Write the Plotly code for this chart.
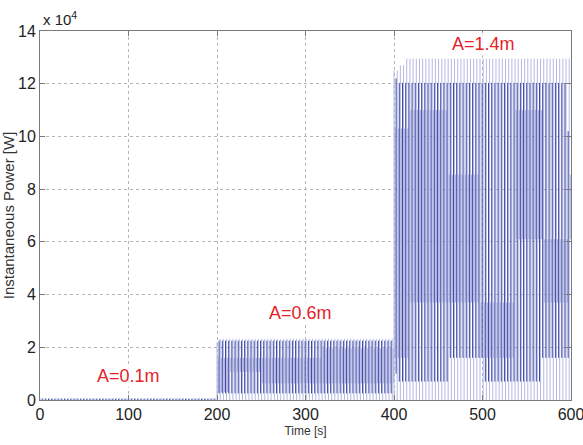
import plotly.graph_objects as go

# ---------------- data (power in units of 10^4 W) ----------------
seg_starts = [0, 200, 400]
seg_ends = [200, 400, 600]
cycle_period_s = 3.6

# light full-swing strokes: band start, band end, low, high
light_t0 = [0, 200, 203, 400, 406, 414]
light_t1 = [200, 203, 400, 406, 414, 600]
light_lo = [0, 0, 0, 0, 0, 0]
light_hi = [0.07, 2.2, 2.32, 12.5, 12.7, 12.95]

# medium (lavender) strokes
mid_t0 = [201, 215, 248, 320, 401, 416, 461, 495, 500, 514, 536, 568]
mid_t1 = [215, 248, 320, 400, 416, 461, 495, 536, 514, 568, 596, 600]
mid_lo = [0.3, 1.07, 0.63, 0.63, 1.6, 3.7, 3.7, 1.6, 6.1, 6.1, 3.7, 6.1]
mid_hi = [1.6, 1.6, 1.6, 1.96, 10.3, 11.0, 8.55, 3.7, 8.55, 11.0, 6.1, 8.55]

# dark strokes
dark_t0 = [0, 200, 400, 404, 461, 502, 568, 596]
dark_t1 = [200, 400, 404, 461, 502, 568, 596, 600]
dark_lo = [0, 0.25, 1.0, 0.7, 1.6, 0.7, 1.6, 1.6]
dark_hi = [0.05, 2.25, 12.2, 12.03, 12.03, 12.03, 12.03, 10.2]

labels_text = ["A=0.1m", "A=0.6m", "A=1.4m"]
labels_t = [100, 294, 501]
labels_p = [0.9, 3.3, 13.5]

x_ticks = [0, 100, 200, 300, 400, 500, 600]
y_ticks = [0, 2, 4, 6, 8, 10, 12, 14]


def strokes(t0s, t1s, los, his, offset):
    xs, ys = [], []
    for s0, s1 in zip(seg_starts, seg_ends):
        t = s0 + offset
        while t < s1:
            for a, b, lo, hi in zip(t0s, t1s, los, his):
                if a <= t < b:
                    xs += [t, t, None]
                    ys += [lo, hi, None]
                    break
            t += cycle_period_s
    return xs, ys


fig = go.Figure()
layers = [
    (light_t0, light_t1, light_lo, light_hi, 0.0, "#b4b9e3"),
    (mid_t0, mid_t1, mid_lo, mid_hi, cycle_period_s / 3, "#adb2de"),
    (dark_t0, dark_t1, dark_lo, dark_hi, 2 * cycle_period_s / 3, "#3e49a5"),
]
for t0s, t1s, los, his, off, col in layers:
    xs, ys = strokes(t0s, t1s, los, his, off)
    fig.add_trace(go.Scatter(x=xs, y=ys, mode="lines",
                             line=dict(color=col, width=1.0),
                             hoverinfo="skip", showlegend=False))

for txt, tx, py in zip(labels_text, labels_t, labels_p):
    fig.add_annotation(x=tx, y=py, text=txt, showarrow=False,
                       font=dict(family="Liberation Sans Narrow, Liberation Sans, Arial",
                                 size=18, color="#e52228"),
                       bgcolor="rgba(255,255,255,0.85)")

fig.add_annotation(xref="paper", yref="paper", x=0, y=1, xanchor="left",
                   yanchor="bottom", yshift=1, xshift=1,
                   text="x 10<sup>4</sup>", showarrow=False,
                   font=dict(family="Liberation Sans Narrow, Liberation Sans, Arial",
                             size=15, color="#222222"))

axis_common = dict(
    showline=True, linecolor="#7a7a7a", linewidth=1, mirror="allticks",
    ticks="inside", ticklen=5, tickcolor="#7a7a7a",
    showgrid=True, gridcolor="#b5b5b5", griddash="dot", gridwidth=1,
    zeroline=False, automargin=False, ticklabeloverflow="allow",
    tickfont=dict(family="Liberation Sans Narrow, Liberation Sans, Arial",
                  size=16, color="#222222"),
)

fig.update_xaxes(range=[0, 600], tickvals=x_ticks,
                 title=dict(text="Time [s]", standoff=4,
                            font=dict(family="Liberation Sans, Arial", size=12,
                                      color="#333333")),
                 **axis_common)
fig.update_yaxes(range=[0, 14], tickvals=y_ticks,
                 title=dict(text="Instantaneous Power [W]", standoff=4,
                            font=dict(family="Liberation Sans, Arial", size=15,
                                      color="#333333")),
                 **axis_common)

fig.update_layout(width=583, height=445,
                  margin=dict(l=40, r=12, t=31, b=45),
                  plot_bgcolor="white", paper_bgcolor="white",
                  showlegend=False)

fig.write_html("out.html")
